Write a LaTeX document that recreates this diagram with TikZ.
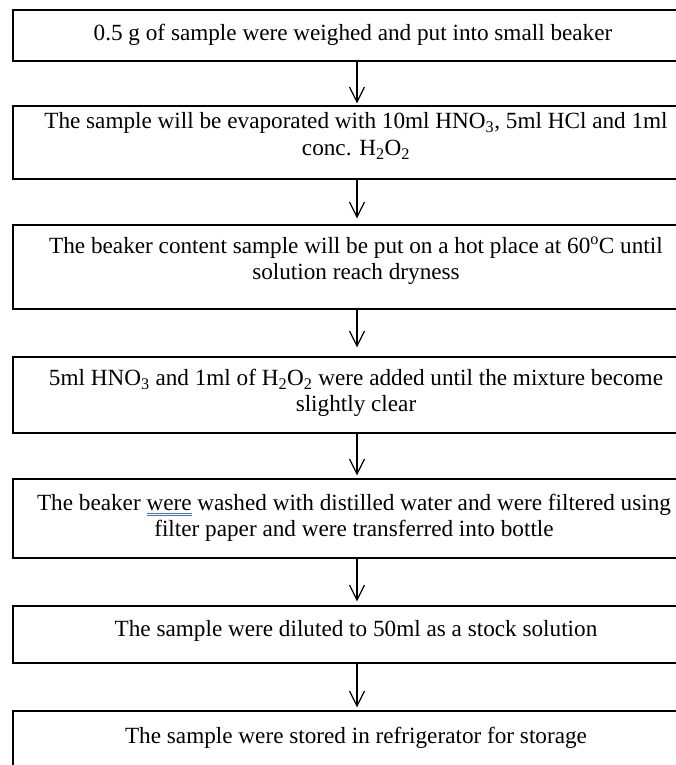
\documentclass[tikz,border=0pt]{standalone}
\usepackage{fontspec}
\setmainfont{Liberation Serif}
\usetikzlibrary{arrows.meta}
\definecolor{gramblue}{RGB}{70,110,210}
\newsavebox\gramwbox
\newcommand\gramul[1]{\sbox\gramwbox{#1}\rlap{\textcolor{gramblue}{\rule[-3.0pt]{\wd\gramwbox}{0.7pt}}}\rlap{\textcolor{gramblue}{\rule[-5.0pt]{\wd\gramwbox}{0.7pt}}}\usebox\gramwbox}
\tikzset{
  stepbox/.style={draw=black, line width=1.2pt, rectangle, inner sep=0pt},
  steptext/.style={font=\fontsize{23.2}{25.5}\selectfont, align=center, inner sep=0pt},
  flowarrow/.style={draw=black, line width=1.2pt, -{Straight Barb[length=15pt,width=15pt,line width=1.2pt]}}
}
\begin{document}
\begin{tikzpicture}[x=1pt,y=1pt]
\useasboundingbox (0,0) rectangle (676,-765);
\fill[white] (0,0) rectangle (676,-765);
\clip (0,0) rectangle (676,-765);
% boxes: left 13, right 701 (cut off)
\node[stepbox, minimum width=688pt, minimum height=51pt] (b1) at (357,-35.5) {};
\node[stepbox, minimum width=688pt, minimum height=73pt] (b2) at (357,-142.5) {};
\node[stepbox, minimum width=688pt, minimum height=84pt] (b3) at (357,-267) {};
\node[stepbox, minimum width=688pt, minimum height=76pt] (b4) at (357,-395) {};
\node[stepbox, minimum width=688pt, minimum height=79pt] (b5) at (357,-518.5) {};
\node[stepbox, minimum width=688pt, minimum height=57pt] (b6) at (357,-634.5) {};
\node[stepbox, minimum width=688pt, minimum height=89pt] (b7) at (357,-755.5) {};
% texts
\node[steptext] (t1) at (353,-35) {0.5 g of sample were weighed and put into small beaker};
\node[steptext] (t2) at (356,-136) {The sample will be evaporated with 10ml HNO\textsubscript{3}, 5ml HCl and 1ml\\[1pt] conc. H\textsubscript{2}O\textsubscript{2}};
\node[steptext] (t3) at (356,-260.5) {The beaker content sample will be put on a hot place at 60\textsuperscript{o}C until\\ solution reach dryness};
\node[steptext] (t4) at (356,-393) {5ml HNO\textsubscript{3} and 1ml of H\textsubscript{2}O\textsubscript{2} were added until the mixture become\\[1pt] slightly clear};
\node[steptext] (t5) at (354,-518) {The beaker \gramul{were} washed with distilled water and were filtered using\\ filter paper and were transferred into bottle};
\node[steptext] (t6) at (356,-631) {The sample were diluted to 50ml as a stock solution};
\node[steptext] (t7) at (356,-738) {The sample were stored in refrigerator for storage};
% arrows
\draw[flowarrow, shorten >=2pt] (b1.south) -- (b2.north);
\draw[flowarrow, shorten >=6pt] (b2.south) -- (b3.north);
\draw[flowarrow, shorten >=9pt] (b3.south) -- (b4.north);
\draw[flowarrow, shorten >=3pt] (b4.south) -- (b5.north);
\draw[flowarrow, shorten >=4pt] (b5.south) -- (b6.north);
\draw[flowarrow, shorten >=3pt] (b6.south) -- (b7.north);
\end{tikzpicture}
\end{document}
